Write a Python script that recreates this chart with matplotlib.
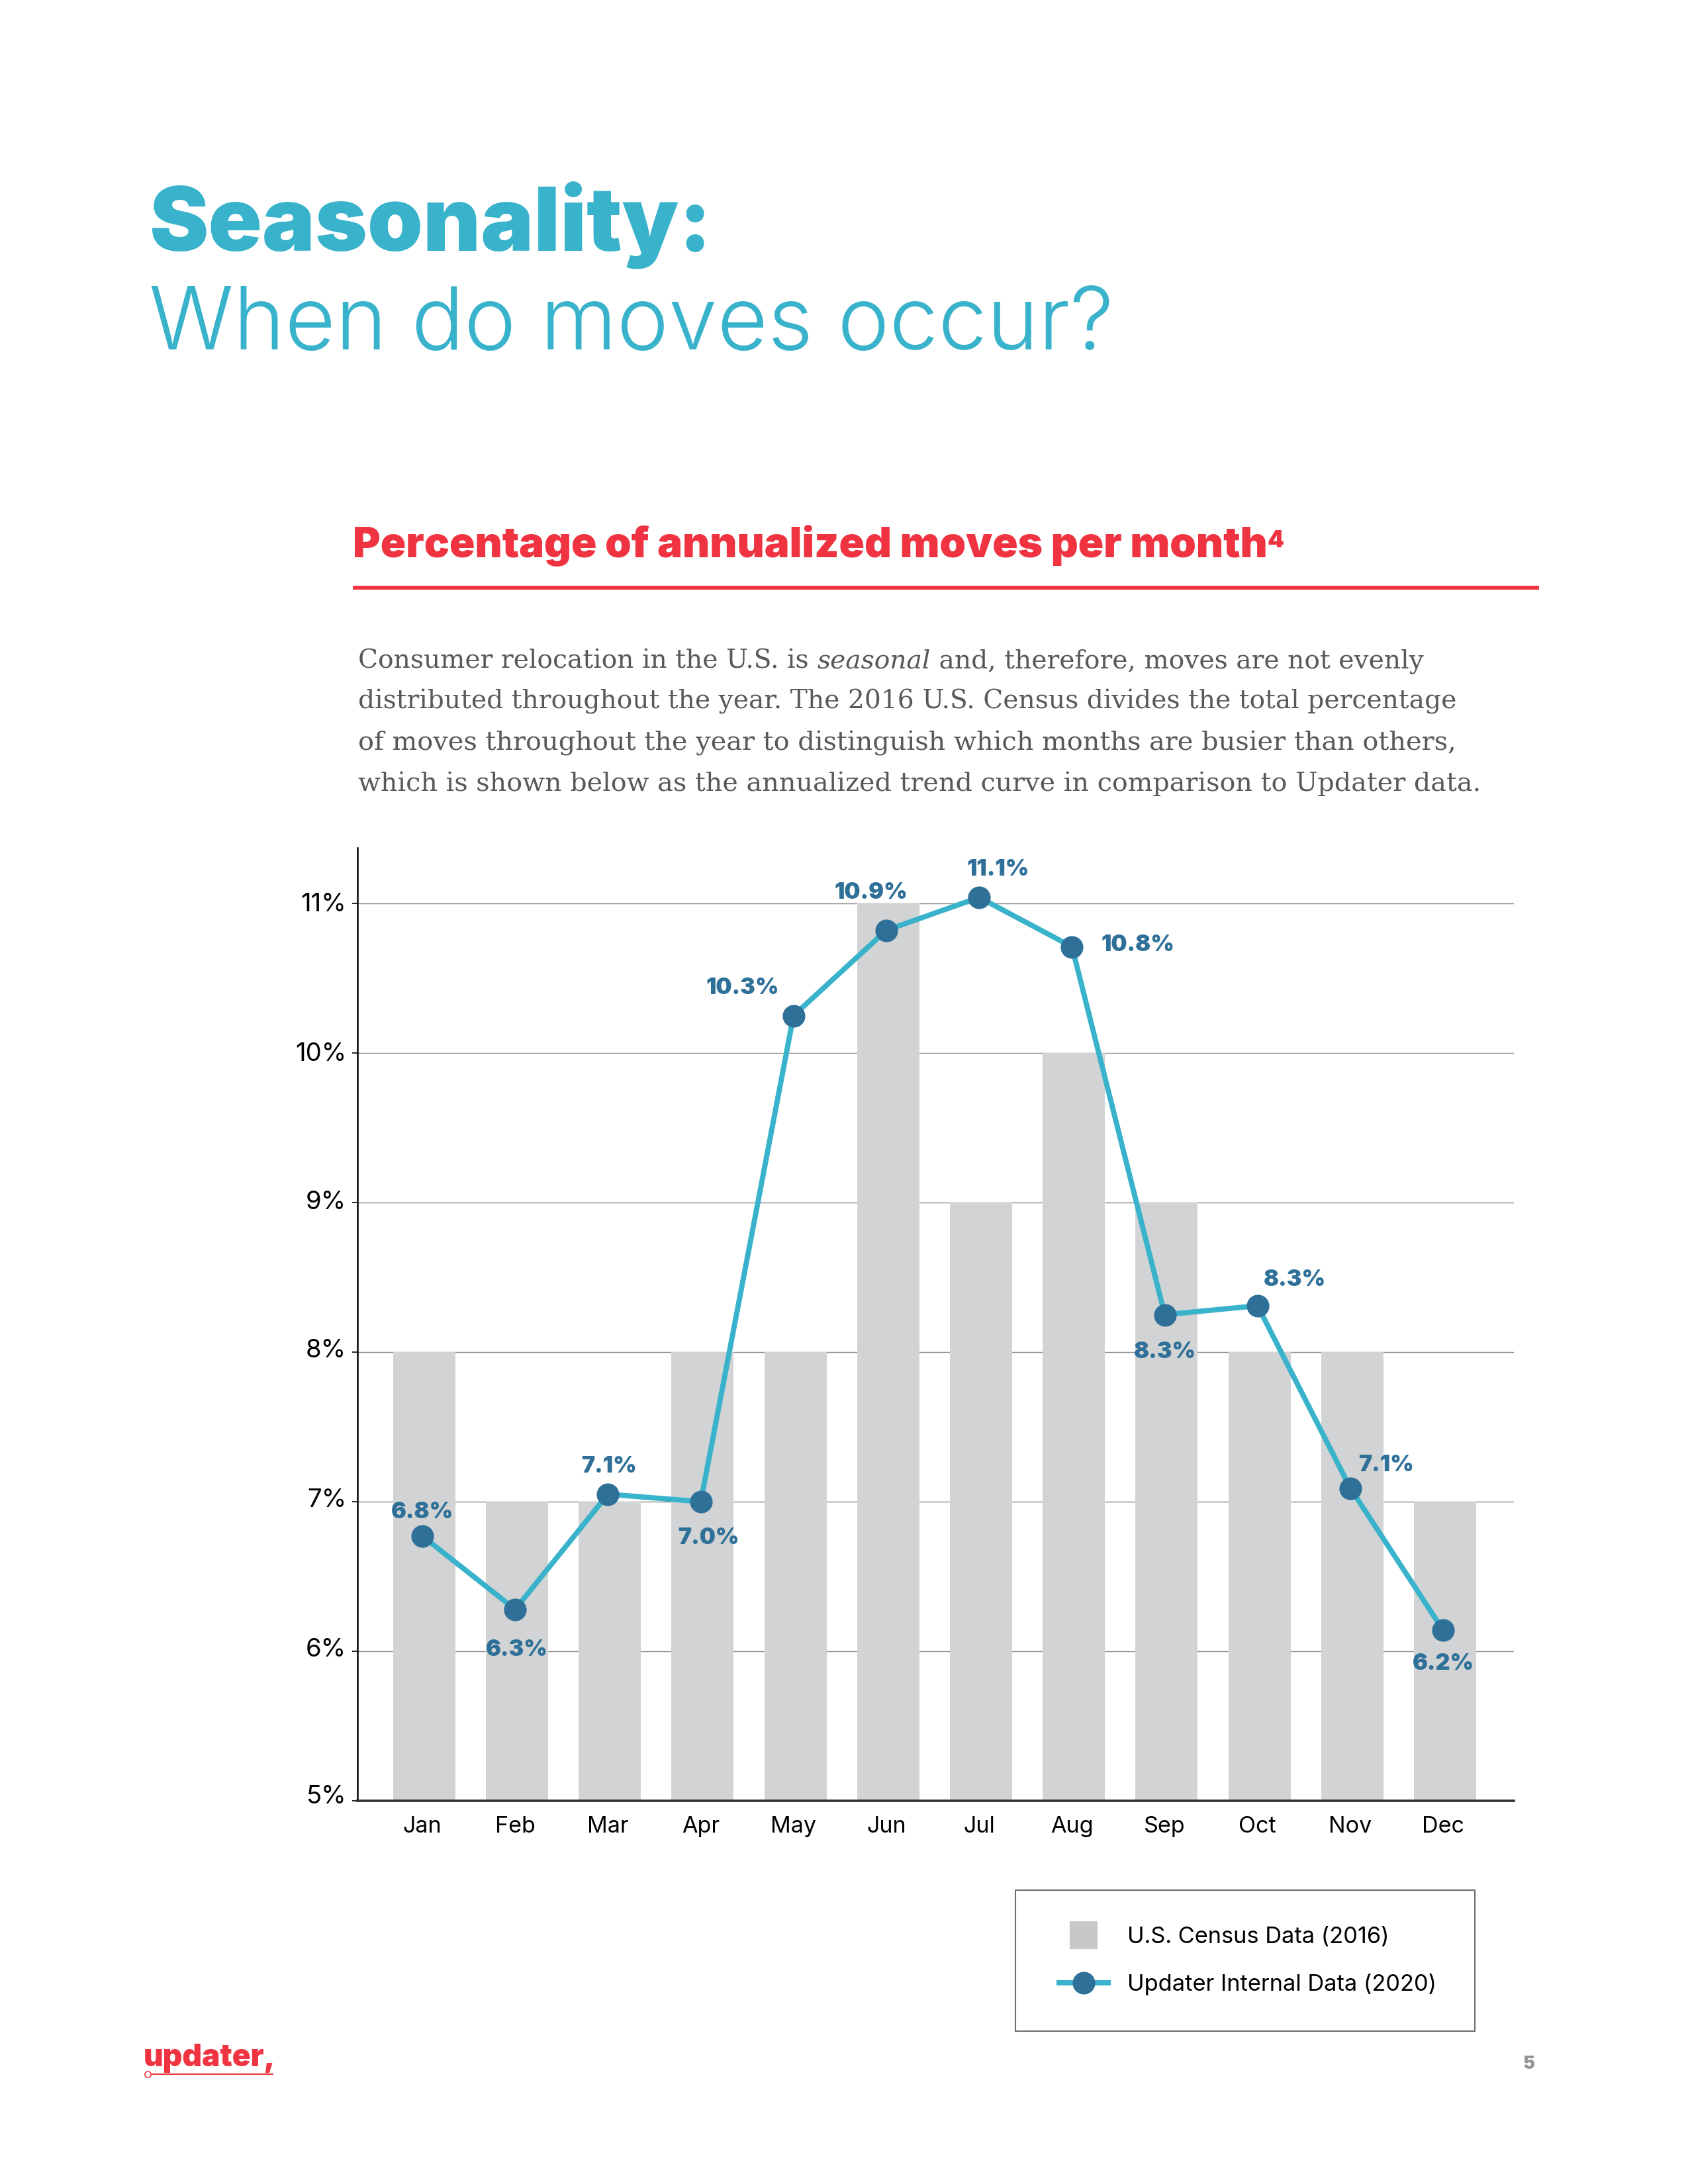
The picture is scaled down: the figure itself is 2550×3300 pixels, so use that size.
import matplotlib
matplotlib.use("Agg")
import matplotlib.pyplot as plt
from matplotlib.lines import Line2D
from matplotlib.patches import Rectangle
from matplotlib.transforms import ScaledTranslation

W, H = 2550, 3300
months = ["Jan","Feb","Mar","Apr","May","Jun","Jul","Aug","Sep","Oct","Nov","Dec"]
census = [8,7,7,8,8,11,9,10,9,8,8,7]
updater = [6.77,6.28,7.05,7.00,10.25,10.82,11.04,10.71,8.25,8.31,7.09,6.14]
value_labels = ["6.8%","6.3%","7.1%","7.0%","10.3%","10.9%","11.1%","10.8%","8.3%","8.3%","7.1%","6.2%"]
y_ticks = [5,6,7,8,9,10,11]
para_lines = [
    "distributed throughout the year. The 2016 U.S. Census divides the total percentage",
    "of moves throughout the year to distinguish which months are busier than others,",
    "which is shown below as the annualized trend curve in comparison to Updater data.",
]

TEAL = "#39B2CB"; BLUE = "#2F7099"; RED = "#EF3340"; GREY = "#D1D3D4"; TXT = "#58595B"
HEAVY = dict(family="Inter", weight=900)
# label offsets in picture pixels (dx right, dy up) from each point
lab_off = [(0,36),(3,-61),(2,42),(12,-55),(-77,42),(-23,57),(29,42),(100,3),(0,-57),(56,39),(54,35),(0,-51)]
# upward nudge of each y tick label, in picture pixels
ylab_nudge = [10,6,6,6,4,2,2]

fig = plt.figure(figsize=(W/300, H/300), dpi=300, facecolor="white")
r = fig.canvas.get_renderer()

def put(s, x, base, width=None, size=20, **kw):
    t = fig.text(x/W, 1-base/H, s, ha="left", va="baseline", fontsize=size, **kw)
    if width:
        w = t.get_window_extent(r).width
        t.set_fontsize(size*width/w)
    return t

put("Seasonality:", 225, 379, width=850, color=TEAL, **HEAVY)
put("When do moves occur?", 225, 528, width=1460, family="Inter", weight=300, color=TEAL)
put("Percentage of annualized moves per month", 533, 842, width=1384, color=RED, **HEAVY)
put("4", 1914, 827, size=8.5, color=RED, **HEAVY)
fig.add_artist(Line2D([533/W, 2325/W], [1-888/H]*2, color=RED, lw=1.4, solid_capstyle="butt"))

# paragraph
PF = "DejaVu Serif"
pk = dict(family=PF, color=TXT)
for s, b, w in zip(para_lines, [1071, 1133, 1195], [1656, 1666, 1698]):
    sized = put(s, 541, b, width=w, **pk)
PS1 = sized.get_fontsize() * 0.985
x = 541
for s, st in [("Consumer relocation in the U.S. is ", "normal"), ("seasonal", "italic"),
              (" and, therefore, moves are not evenly", "normal")]:
    t = put(s.replace(" ", "\u00a0"), x, 1009, size=PS1, style=st, **pk)
    x += t.get_window_extent(r).width

# chart
ax = fig.add_axes([540/W, 1-2721/H, (2287-540)/W, (2721-1281)/H])
ax.set_xlim(-0.699, 11.762)
ax.set_ylim(5, 11+84/226)
ax.set_axisbelow(True)
ax.yaxis.grid(True, color="#8F8F8F", lw=0.35)
ax.bar([i+0.02 for i in range(12)], census, width=0.67, color=GREY, zorder=2)
ax.plot(range(12), updater, color=TEAL, lw=1.9, marker="o", ms=7.2, mfc=BLUE, mec=BLUE, zorder=3)
for i, (v, l, o) in enumerate(zip(updater, value_labels, lab_off)):
    ax.annotate(l, (i, v), xytext=(o[0]*72/300, o[1]*72/300), textcoords="offset points",
                ha="center", va="center", fontsize=8.2, color=BLUE, zorder=4, **HEAVY)
ax.set_xticks(range(12), months, family="Inter", fontsize=8.2)
ax.set_yticks(y_ticks, [f"{v}%" for v in y_ticks], family="Inter", fontsize=9.2)
ax.tick_params(axis="x", length=0, pad=5.6)
ax.tick_params(axis="y", length=2, width=0.4, pad=2)
for lab, n in zip(ax.get_yticklabels(), ylab_nudge):
    lab.set_transform(lab.get_transform() + ScaledTranslation(0, n/300, fig.dpi_scale_trans))
for s in ["top", "right"]:
    ax.spines[s].set_visible(False)
ax.spines["left"].set_linewidth(0.6)
ax.spines["bottom"].set_linewidth(0.9)
ax.spines["bottom"].set_color("#333333")
ax.patch.set_alpha(0)

fig.add_artist(Rectangle((1534/W, 1-3069/H), 694/W, 213/H, transform=fig.transFigure,
                         fc="white", ec="#6D6E71", lw=0.5))
handles = [Line2D([], [], ls="none", marker="s", ms=9.2, mfc="#C7C8CA", mec="#C7C8CA"),
           Line2D([], [], color=TEAL, lw=1.9, marker="o", ms=7.2, mfc=BLUE, mec=BLUE)]
leg = fig.legend(handles, ["U.S. Census Data (2016)", "Updater Internal Data (2020)"],
                 loc="center", bbox_to_anchor=(1885/W, 1-2963/H), prop=dict(family="Inter", size=8.26),
                 frameon=False, handlelength=2.15, handletextpad=0.85, labelspacing=1.15,
                 borderpad=0, borderaxespad=0)
leg.set_zorder(5)

# footer
put("updater,", 217, 3122, width=200, color=RED, **HEAVY)
fig.add_artist(Line2D([228/W, 412/W], [1-3134/H]*2, color=RED, lw=0.5))
fig.add_artist(Line2D([223/W], [1-3134/H], color=RED, marker="o", ms=2.2, mfc="white", mew=0.4))
put("5", 2301, 3126, size=6.5, color="#939598", **HEAVY)

fig.savefig("out.png", dpi=300)
